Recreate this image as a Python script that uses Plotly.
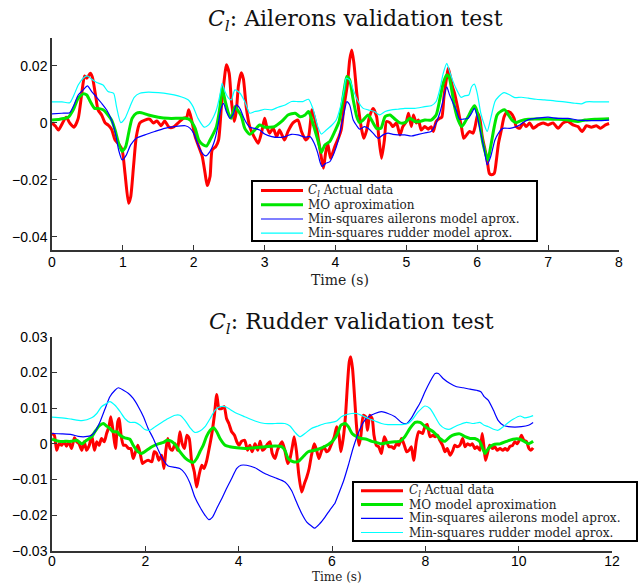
import plotly.graph_objects as go

# ---------------- Top panel: ailerons validation test ----------------
top_red_t = [0, 0.05, 0.09, 0.16, 0.2, 0.25, 0.31, 0.37, 0.42, 0.46, 0.49, 0.54, 0.57, 0.61, 0.65, 0.7, 0.75, 0.79, 0.84, 0.89, 0.94, 0.99, 1.03, 1.08, 1.11, 1.15, 1.19, 1.24, 1.31, 1.38, 1.43, 1.48, 1.54, 1.59, 1.65, 1.71, 1.78, 1.85, 1.9, 1.93, 1.97, 2.02, 2.07, 2.12, 2.16, 2.19, 2.23, 2.26, 2.31, 2.35, 2.39, 2.43, 2.46, 2.5, 2.53, 2.57, 2.6, 2.63, 2.67, 2.70, 2.74, 2.79, 2.85, 2.91, 2.96, 3.0, 3.03, 3.07, 3.12, 3.17, 3.21, 3.28, 3.33, 3.40, 3.47, 3.52, 3.58, 3.62, 3.67, 3.72, 3.76, 3.79, 3.83, 3.86, 3.89, 3.93, 3.99, 4.05, 4.08, 4.12, 4.17, 4.2, 4.23, 4.26, 4.3, 4.33, 4.37, 4.4, 4.44, 4.48, 4.53, 4.58, 4.61, 4.65, 4.69, 4.72, 4.77, 4.81, 4.86, 4.91, 4.95, 5.0, 5.03, 5.07, 5.1, 5.14, 5.17, 5.21, 5.26, 5.31, 5.35, 5.38, 5.42, 5.47, 5.5, 5.53, 5.57, 5.59, 5.61, 5.65, 5.68, 5.73, 5.78, 5.81, 5.85, 5.89, 5.94, 5.97, 6.01, 6.04, 6.07, 6.11, 6.14, 6.17, 6.2, 6.24, 6.27, 6.3, 6.34, 6.38, 6.43, 6.47, 6.52, 6.55, 6.6, 6.65, 6.69, 6.74, 6.79, 6.86, 6.93, 7.0, 7.07, 7.14, 7.21, 7.28, 7.35, 7.42, 7.48, 7.54, 7.61, 7.68, 7.74, 7.81, 7.86]
top_red_v = [0.0, -0.0012, -0.0025, 0.0005, 0.002, 0.0, -0.0015, 0.0016, 0.0104, 0.0165, 0.0157, 0.0174, 0.016, 0.0104, 0.0046, 0.0028, 0.0, -0.0007, -0.0022, -0.006, -0.0074, -0.0095, -0.0177, -0.0282, -0.026, -0.0153, -0.0048, 0.0, 0.001, 0.0013, 0.0, 0.0007, -0.001, 0.0007, -0.0015, -0.0015, 0.0, 0.0016, 0.002, 0.0046, 0.001, -0.0048, -0.0083, -0.0118, -0.0177, -0.022, -0.0188, -0.0095, -0.0083, -0.006, 0.0057, 0.0151, 0.0204, 0.0174, 0.0081, 0.0005, 0.004, 0.013, 0.0176, 0.0155, 0.0057, -0.0013, -0.0048, -0.0071, -0.003, 0.0016, -0.0013, -0.0036, -0.0019, -0.0048, -0.0025, -0.006, -0.003, 0.0, 0.001, -0.003, -0.006, -0.0048, 0.0046, 0.0, -0.006, -0.0106, -0.0159, -0.0106, -0.0071, -0.0124, -0.0083, -0.0048, -0.0025, 0.0057, 0.0139, 0.0221, 0.0256, 0.0209, 0.0104, 0.004, -0.0025, -0.0054, -0.0025, 0.0022, 0.0051, 0.0022, -0.0048, -0.0124, -0.006, 0.0005, 0.0, -0.0013, 0.0, -0.0042, -0.0013, 0.0005, 0.0034, -0.0013, 0.0028, 0.0, 0.001, -0.0025, -0.0013, -0.0022, -0.0013, -0.003, 0.0005, 0.0016, 0.002, 0.0092, 0.0163, 0.0192, 0.0174, 0.0127, 0.0104, 0.0046, -0.0019, -0.0054, -0.0042, -0.003, -0.0036, -0.0013, 0.0034, 0.001, -0.0048, -0.0095, -0.013, -0.0177, -0.0182, -0.0177, -0.013, -0.0071, -0.0025, 0.0022, 0.004, 0.0036, 0.0016, -0.0013, -0.0019, 0.0, -0.0013, 0.0, -0.0019, -0.0007, 0.0, -0.0007, 0.0, -0.0019, 0.0, 0.0005, -0.0007, -0.0013, -0.003, -0.001, -0.0015, -0.001, -0.0019, -0.0007, -0.0002]

top_green_t = [0, 0.11, 0.23, 0.3, 0.37, 0.44, 0.49, 0.54, 0.6, 0.65, 0.72, 0.79, 0.84, 0.89, 0.94, 0.99, 1.04, 1.09, 1.13, 1.19, 1.26, 1.36, 1.5, 1.64, 1.78, 1.88, 1.95, 2.02, 2.07, 2.13, 2.18, 2.23, 2.28, 2.32, 2.37, 2.4, 2.44, 2.49, 2.53, 2.58, 2.62, 2.67, 2.72, 2.79, 2.86, 2.93, 3.0, 3.07, 3.14, 3.24, 3.33, 3.43, 3.5, 3.57, 3.62, 3.68, 3.75, 3.8, 3.85, 3.92, 3.99, 4.05, 4.08, 4.13, 4.16, 4.2, 4.25, 4.3, 4.34, 4.39, 4.46, 4.52, 4.58, 4.64, 4.7, 4.77, 4.84, 4.91, 4.98, 5.05, 5.12, 5.19, 5.26, 5.35, 5.42, 5.47, 5.52, 5.57, 5.6, 5.64, 5.68, 5.73, 5.78, 5.82, 5.87, 5.92, 5.96, 5.99, 6.04, 6.08, 6.13, 6.15, 6.19, 6.24, 6.28, 6.34, 6.39, 6.44, 6.49, 6.55, 6.62, 6.72, 6.81, 6.95, 7.14, 7.28, 7.42, 7.52, 7.66, 7.86]
top_green_v = [0.001, 0.0013, 0.002, 0.0046, 0.0087, 0.0102, 0.0098, 0.0075, 0.0051, 0.0051, 0.0046, 0.0028, 0.001, -0.0025, -0.0071, -0.01, -0.0083, -0.0025, 0.0016, 0.0034, 0.0036, 0.0028, 0.002, 0.0016, 0.0016, 0.0016, 0.001, -0.0019, -0.006, -0.0077, -0.0081, -0.006, -0.0036, -0.0013, 0.0057, 0.0122, 0.0081, 0.0034, 0.0016, 0.0057, 0.0045, 0.0025, -0.0019, -0.004, -0.0025, -0.0007, -0.0015, -0.0015, -0.0013, 0.0005, 0.0028, 0.0034, 0.0022, 0.0028, 0.004, 0.0, -0.006, -0.0104, -0.0077, -0.0065, -0.003, 0.0005, 0.0046, 0.0127, 0.0163, 0.0151, 0.0081, 0.0022, 0.0001, 0.001, 0.0028, 0.0005, -0.0019, -0.0019, 0.0022, 0.0028, 0.0013, 0.0, 0.0001, 0.0016, 0.0005, 0.0005, 0.001, 0.001, 0.0028, 0.0081, 0.0139, 0.0168, 0.0163, 0.0116, 0.0057, 0.001, -0.0013, 0.0, 0.0022, 0.0046, 0.006, 0.0046, -0.0013, -0.0071, -0.0118, -0.013, -0.0083, -0.0013, 0.0028, 0.0042, 0.0046, 0.0028, 0.001, 0.0001, 0.0008, 0.0013, 0.0014, 0.0014, 0.0013, 0.001, 0.0005, 0.001, 0.0013, 0.0015]

top_blue_t = [0, 0.14, 0.25, 0.31, 0.37, 0.44, 0.5, 0.56, 0.63, 0.7, 0.77, 0.84, 0.9, 0.94, 0.99, 1.05, 1.11, 1.19, 1.31, 1.45, 1.59, 1.73, 1.88, 1.95, 2.01, 2.06, 2.12, 2.17, 2.23, 2.29, 2.34, 2.38, 2.42, 2.46, 2.51, 2.56, 2.6, 2.65, 2.72, 2.79, 2.86, 2.93, 3.0, 3.1, 3.19, 3.29, 3.38, 3.47, 3.57, 3.64, 3.7, 3.75, 3.78, 3.81, 3.86, 3.92, 3.98, 4.04, 4.08, 4.13, 4.16, 4.2, 4.25, 4.3, 4.34, 4.41, 4.46, 4.53, 4.6, 4.67, 4.74, 4.81, 4.88, 4.98, 5.07, 5.17, 5.28, 5.35, 5.42, 5.47, 5.52, 5.57, 5.61, 5.66, 5.71, 5.75, 5.8, 5.87, 5.92, 5.96, 6.0, 6.05, 6.1, 6.14, 6.19, 6.25, 6.3, 6.36, 6.46, 6.53, 6.6, 6.67, 6.76, 6.88, 7.0, 7.14, 7.28, 7.42, 7.56, 7.7, 7.86]
top_blue_v = [0.0032, 0.0034, 0.0036, 0.0063, 0.0098, 0.0116, 0.013, 0.011, 0.009, 0.0069, 0.0046, 0.001, -0.0042, -0.0095, -0.013, -0.0112, -0.0077, -0.0054, -0.0042, -0.003, -0.0019, -0.0013, -0.001, -0.0019, -0.0042, -0.0077, -0.0106, -0.0116, -0.01, -0.0065, -0.0013, 0.0046, 0.0069, 0.004, 0.0016, 0.0032, 0.0063, 0.0051, 0.001, -0.0015, -0.0019, -0.0025, -0.0039, -0.0048, -0.0051, -0.0048, -0.004, -0.0042, -0.005, -0.0048, -0.0071, -0.0106, -0.0136, -0.0153, -0.0142, -0.0136, -0.0106, -0.006, -0.0013, 0.0046, 0.0075, 0.0063, 0.001, -0.001, -0.0022, -0.0013, -0.0019, -0.0036, -0.0054, -0.0042, -0.0036, -0.004, -0.0042, -0.0042, -0.0046, -0.004, -0.0034, -0.003, 0.0, 0.0034, 0.0081, 0.0127, 0.0098, 0.0069, 0.004, 0.0013, 0.0013, 0.0016, 0.0034, 0.0051, 0.0022, -0.0036, -0.0095, -0.0147, -0.0118, -0.006, -0.0036, -0.0019, -0.0019, -0.0015, -0.0007, 0.0005, 0.0014, 0.0018, 0.002, 0.0016, 0.0016, 0.001, 0.0008, 0.0008, 0.001]

top_cyan_t = [0, 0.14, 0.25, 0.31, 0.37, 0.44, 0.5, 0.56, 0.63, 0.72, 0.79, 0.87, 0.91, 0.97, 1.03, 1.1, 1.16, 1.24, 1.36, 1.5, 1.64, 1.78, 1.92, 1.99, 2.06, 2.15, 2.21, 2.28, 2.32, 2.37, 2.4, 2.44, 2.49, 2.53, 2.58, 2.65, 2.72, 2.79, 2.86, 2.93, 3.0, 3.1, 3.19, 3.29, 3.38, 3.47, 3.54, 3.62, 3.68, 3.75, 3.8, 3.87, 3.94, 4.01, 4.07, 4.12, 4.15, 4.2, 4.25, 4.32, 4.39, 4.46, 4.55, 4.62, 4.7, 4.79, 4.88, 4.98, 5.12, 5.26, 5.35, 5.42, 5.47, 5.52, 5.57, 5.61, 5.66, 5.71, 5.77, 5.82, 5.88, 5.92, 5.96, 6.0, 6.05, 6.1, 6.14, 6.19, 6.25, 6.3, 6.38, 6.46, 6.53, 6.62, 6.72, 6.83, 6.95, 7.09, 7.23, 7.38, 7.47, 7.54, 7.68, 7.86]
top_cyan_v = [0.0074, 0.0074, 0.0071, 0.0098, 0.0133, 0.0157, 0.0165, 0.0153, 0.0142, 0.0133, 0.011, 0.0104, 0.0057, 0.0001, 0.0016, 0.0057, 0.009, 0.0104, 0.0108, 0.0106, 0.0102, 0.0095, 0.0081, 0.0057, 0.0016, -0.0015, -0.0007, 0.0022, 0.0046, 0.0098, 0.0139, 0.011, 0.0087, 0.0081, 0.0116, 0.0105, 0.0075, 0.0034, 0.004, 0.0043, 0.0048, 0.0046, 0.0055, 0.0063, 0.0075, 0.0075, 0.0075, 0.0083, 0.0051, -0.0013, -0.0039, -0.0025, -0.001, 0.001, 0.0057, 0.0116, 0.0157, 0.0151, 0.0116, 0.0075, 0.0051, 0.0046, 0.004, 0.0028, 0.004, 0.0046, 0.0048, 0.0051, 0.0051, 0.0057, 0.006, 0.0075, 0.0116, 0.0174, 0.0209, 0.018, 0.0145, 0.0116, 0.009, 0.0095, 0.0098, 0.0127, 0.0136, 0.0104, 0.0034, -0.0007, -0.003, 0.0016, 0.0075, 0.0092, 0.0106, 0.0098, 0.0089, 0.009, 0.0087, 0.0083, 0.0081, 0.0077, 0.0074, 0.0069, 0.0067, 0.0074, 0.0074, 0.0074]

# ---------------- Bottom panel: rudder validation test ----------------
bot_red_t = [0, 0.05, 0.1, 0.15, 0.21, 0.26, 0.31, 0.36, 0.42, 0.48, 0.53, 0.58, 0.64, 0.69, 0.74, 0.8, 0.85, 0.91, 0.96, 1.01, 1.06, 1.12, 1.17, 1.22, 1.26, 1.31, 1.36, 1.41, 1.44, 1.48, 1.53, 1.58, 1.64, 1.69, 1.74, 1.79, 1.84, 1.89, 1.94, 1.99, 2.06, 2.14, 2.19, 2.24, 2.29, 2.35, 2.4, 2.44, 2.48, 2.53, 2.58, 2.64, 2.69, 2.74, 2.79, 2.84, 2.89, 2.94, 2.99, 3.05, 3.1, 3.15, 3.21, 3.26, 3.31, 3.36, 3.42, 3.48, 3.53, 3.58, 3.64, 3.69, 3.74, 3.79, 3.85, 3.91, 3.96, 4.01, 4.06, 4.13, 4.19, 4.24, 4.29, 4.35, 4.41, 4.46, 4.51, 4.56, 4.62, 4.67, 4.72, 4.78, 4.83, 4.88, 4.93, 4.99, 5.05, 5.1, 5.15, 5.19, 5.24, 5.29, 5.35, 5.41, 5.46, 5.51, 5.56, 5.62, 5.67, 5.72, 5.78, 5.83, 5.88, 5.93, 5.99, 6.05, 6.1, 6.15, 6.19, 6.24, 6.29, 6.33, 6.37, 6.4, 6.44, 6.49, 6.53, 6.58, 6.62, 6.67, 6.72, 6.76, 6.81, 6.86, 6.9, 6.95, 7.0, 7.06, 7.12, 7.17, 7.22, 7.28, 7.33, 7.38, 7.43, 7.49, 7.55, 7.6, 7.65, 7.7, 7.75, 7.81, 7.86, 7.94, 7.99, 8.04, 8.1, 8.16, 8.21, 8.26, 8.31, 8.37, 8.42, 8.47, 8.53, 8.59, 8.63, 8.68, 8.74, 8.8, 8.85, 8.9, 8.96, 9.01, 9.06, 9.11, 9.17, 9.22, 9.26, 9.29, 9.33, 9.38, 9.44, 9.49, 9.54, 9.6, 9.66, 9.71, 9.76, 9.81, 9.87, 9.92, 9.97, 10.03, 10.06, 10.11, 10.17, 10.22, 10.26, 10.31]
bot_red_v = [0.0029, 0.0024, -0.0018, 0.0, -0.0004, 0.0006, -0.0007, 0.0006, -0.0013, 0.0017, 0.0006, 0.0, -0.0018, 0.0006, -0.0018, -0.0004, 0.0024, -0.0018, 0.0006, -0.0004, 0.0015, 0.0006, 0.0029, 0.0048, 0.0076, 0.0034, -0.0013, 0.0062, 0.0071, 0.0024, -0.0004, -0.0004, -0.0013, -0.0013, -0.0041, -0.0022, -0.0004, -0.0027, -0.0055, -0.005, -0.0046, -0.005, -0.0022, -0.0027, -0.0046, -0.0032, -0.0069, -0.0018, 0.0015, -0.0013, -0.0018, 0.0, -0.0018, 0.0034, 0.0, -0.0013, 0.0024, 0.0015, -0.0046, -0.0079, -0.0121, -0.0088, -0.006, -0.0069, -0.005, -0.0018, 0.0024, 0.008, 0.0138, 0.0099, 0.0099, 0.0104, 0.0071, 0.0057, 0.0034, 0.0024, 0.0006, -0.0004, 0.0007, 0.001, -0.0018, -0.0004, -0.0022, 0.0, -0.0018, 0.0007, -0.0018, -0.0013, 0.0, 0.0006, -0.0027, -0.0041, -0.0018, -0.0004, 0.0006, -0.0018, -0.0055, -0.0041, -0.0008, 0.002, -0.0022, -0.0088, -0.0135, -0.0111, -0.0093, -0.0069, -0.0032, 0.0, -0.0018, -0.0041, -0.0018, -0.0008, -0.0022, -0.0018, 0.0, 0.002, 0.0048, 0.0024, -0.0022, 0.0015, 0.008, 0.0164, 0.023, 0.0244, 0.0211, 0.0118, 0.0043, -0.0004, 0.0024, 0.008, 0.0076, 0.0038, 0.008, 0.0071, 0.0024, -0.0004, -0.0008, -0.0027, 0.002, 0.0006, -0.0008, -0.0008, -0.0013, 0.0, -0.0004, 0.0015, -0.0004, -0.0022, -0.0018, -0.0008, -0.0046, 0.001, 0.0034, 0.0029, 0.0048, 0.0054, 0.002, 0.0024, 0.002, 0.0024, 0.001, -0.0004, -0.0022, -0.0013, -0.0032, -0.0018, -0.0004, -0.0008, -0.0004, 0.0015, -0.0008, 0.0, -0.0004, 0.0, -0.0013, -0.0008, -0.0018, 0.0029, -0.0013, -0.0046, -0.0027, -0.0004, -0.0013, -0.0008, -0.0018, -0.0013, -0.0018, -0.0013, -0.0018, -0.0008, -0.0004, 0.0006, 0.0, 0.0015, 0.0024, 0.001, 0.0006, -0.0013, -0.0018, -0.0011]

bot_green_t = [0, 0.14, 0.28, 0.42, 0.53, 0.64, 0.74, 0.85, 0.92, 1.01, 1.1, 1.17, 1.24, 1.31, 1.39, 1.46, 1.56, 1.67, 1.74, 1.84, 1.92, 2.03, 2.14, 2.28, 2.39, 2.46, 2.56, 2.65, 2.74, 2.85, 2.96, 3.03, 3.1, 3.17, 3.24, 3.31, 3.39, 3.46, 3.53, 3.6, 3.71, 3.81, 3.96, 4.14, 4.35, 4.56, 4.78, 4.92, 4.99, 5.06, 5.17, 5.28, 5.38, 5.49, 5.63, 5.78, 5.92, 6.03, 6.12, 6.19, 6.28, 6.35, 6.43, 6.53, 6.63, 6.74, 6.85, 6.95, 7.06, 7.2, 7.35, 7.45, 7.56, 7.67, 7.78, 7.885, 8.03, 8.17, 8.31, 8.42, 8.53, 8.63, 8.74, 8.85, 8.96, 9.06, 9.16, 9.23, 9.28, 9.35, 9.46, 9.6, 9.74, 9.88, 10.03, 10.13, 10.21, 10.31]
bot_green_v = [0.0013, 0.0007, 0.0007, 0.0007, 0.001, 0.0, 0.001, 0.002, 0.0034, 0.005, 0.0057, 0.005, 0.0043, 0.0034, 0.0034, 0.0024, 0.0017, 0.0013, -0.0004, -0.0022, -0.0027, -0.0018, -0.0008, 0.0, 0.0004, 0.001, 0.0007, -0.0004, -0.0022, -0.0039, -0.0049, -0.0052, -0.0041, -0.0022, -0.0004, 0.002, 0.0038, 0.0045, 0.0034, 0.0015, -0.0004, -0.0008, -0.0011, -0.0013, -0.0011, -0.0008, -0.0006, -0.0008, -0.0018, -0.0041, -0.005, -0.0049, -0.0036, -0.0022, -0.0018, -0.0011, -0.0002, 0.001, 0.0029, 0.0052, 0.0057, 0.0048, 0.0029, 0.002, 0.0015, 0.0013, 0.0007, 0.0004, 0.0, 0.0004, 0.0006, 0.0007, 0.002, 0.0043, 0.006, 0.006, 0.0045, 0.0034, 0.0015, 0.0007, 0.002, 0.0026, 0.0028, 0.002, 0.0015, 0.0015, 0.0007, -0.0013, -0.0027, -0.0013, -0.0002, 0.0, 0.0007, 0.0013, 0.0013, 0.0006, 0.0, 0.0007]

bot_blue_t = [0, 0.21, 0.42, 0.56, 0.71, 0.85, 0.92, 1.03, 1.14, 1.24, 1.35, 1.42, 1.53, 1.64, 1.74, 1.85, 1.96, 2.06, 2.17, 2.28, 2.39, 2.49, 2.64, 2.74, 2.85, 2.96, 3.06, 3.17, 3.28, 3.36, 3.44, 3.53, 3.64, 3.74, 3.85, 3.96, 4.05, 4.17, 4.35, 4.56, 4.78, 4.99, 5.13, 5.24, 5.35, 5.46, 5.56, 5.63, 5.74, 5.85, 5.95, 6.03, 6.06, 6.13, 6.24, 6.35, 6.45, 6.56, 6.67, 6.78, 6.92, 7.06, 7.2, 7.35, 7.49, 7.6, 7.7, 7.8, 7.9, 7.99, 8.1, 8.21, 8.28, 8.38, 8.53, 8.67, 8.81, 8.96, 9.1, 9.19, 9.26, 9.35, 9.46, 9.56, 9.67, 9.78, 9.92, 10.06, 10.21, 10.31]
bot_blue_v = [0.0029, 0.0028, 0.0026, 0.0021, 0.002, 0.0024, 0.0034, 0.0062, 0.0099, 0.0132, 0.015, 0.0157, 0.015, 0.0141, 0.0127, 0.0104, 0.0076, 0.0043, 0.0015, -0.0018, -0.0046, -0.0062, -0.0066, -0.0069, -0.0083, -0.0111, -0.0149, -0.0177, -0.02, -0.0212, -0.0205, -0.0181, -0.0153, -0.0125, -0.0097, -0.0069, -0.006, -0.006, -0.0067, -0.0083, -0.0095, -0.0107, -0.013, -0.0163, -0.0195, -0.0219, -0.023, -0.0236, -0.0223, -0.0205, -0.0186, -0.0172, -0.0167, -0.0144, -0.0107, -0.006, -0.0013, 0.0029, 0.006, 0.0076, 0.0085, 0.009, 0.0085, 0.0076, 0.006, 0.0057, 0.0072, 0.0095, 0.0118, 0.0145, 0.0174, 0.0197, 0.0197, 0.0183, 0.0169, 0.016, 0.0157, 0.0153, 0.015, 0.0146, 0.0132, 0.0122, 0.0094, 0.0066, 0.0052, 0.0048, 0.0047, 0.0048, 0.0052, 0.006]

bot_cyan_t = [0, 0.21, 0.42, 0.64, 0.85, 0.96, 1.06, 1.17, 1.24, 1.35, 1.46, 1.56, 1.67, 1.78, 1.89, 1.99, 2.1, 2.21, 2.35, 2.49, 2.64, 2.74, 2.85, 2.96, 3.06, 3.17, 3.28, 3.39, 3.49, 3.6, 3.71, 3.81, 3.92, 4.13, 4.35, 4.56, 4.78, 4.99, 5.1, 5.21, 5.31, 5.42, 5.56, 5.7, 5.85, 5.99, 6.1, 6.2, 6.31, 6.42, 6.53, 6.63, 6.78, 6.92, 7.06, 7.2, 7.35, 7.49, 7.63, 7.74, 7.85, 7.99, 8.1, 8.21, 8.31, 8.42, 8.53, 8.63, 8.74, 8.88, 9.03, 9.17, 9.26, 9.35, 9.46, 9.56, 9.67, 9.78, 9.88, 10.03, 10.13, 10.24, 10.31]
bot_cyan_v = [0.0075, 0.0073, 0.0069, 0.0065, 0.0073, 0.0085, 0.0104, 0.0113, 0.0118, 0.0108, 0.009, 0.0071, 0.006, 0.006, 0.0052, 0.004, 0.0038, 0.0048, 0.006, 0.0071, 0.008, 0.008, 0.0066, 0.0045, 0.0032, 0.0036, 0.0048, 0.0071, 0.0094, 0.0104, 0.0104, 0.0097, 0.0088, 0.0076, 0.0064, 0.0057, 0.0057, 0.0057, 0.005, 0.0032, 0.002, 0.0029, 0.0043, 0.005, 0.0057, 0.006, 0.0064, 0.0076, 0.0082, 0.0085, 0.0085, 0.008, 0.0071, 0.0064, 0.0057, 0.0054, 0.0054, 0.0054, 0.0057, 0.0071, 0.009, 0.0106, 0.0099, 0.0076, 0.0054, 0.0043, 0.0041, 0.0048, 0.0054, 0.006, 0.0057, 0.006, 0.0052, 0.0048, 0.0041, 0.0038, 0.0048, 0.006, 0.0069, 0.0078, 0.0073, 0.0076, 0.0079]

# ---------------- Labels / ticks ----------------
series_names_top = ["<i>C<sub>l</sub></i> Actual data", "MO aproximation",
                    "Min-squares ailerons model aprox.", "Min-squares rudder model aprox."]
series_names_bot = ["<i>C<sub>l</sub></i> Actual data", "MO model aproximation",
                    "Min-squares ailerons model aprox.", "Min-squares rudder model aprox."]
x_title = "Time (s)"
top_title = "<i>C<sub>l</sub></i>: Ailerons validation test"
bot_title = "<i>C<sub>l</sub></i>: Rudder validation test"
top_xticks = [0, 1, 2, 3, 4, 5, 6, 7, 8]
top_yticks = [-0.04, -0.02, 0, 0.02]
top_yticklabels = ["\u22120.04", "\u22120.02", "0", "0.02"]
bot_xticks = [0, 2, 4, 6, 8, 10, 12]
bot_yticks = [-0.03, -0.02, -0.01, 0, 0.01, 0.02, 0.03]
bot_yticklabels = ["\u22120.03", "\u22120.02", "\u22120.01", "0", "0.01", "0.02", "0.03"]

colors = ["#ff0000", "#00e600", "#0000ff", "#00ffff"]
widths = [3, 3, 1.2, 1.2]

W, H = 638, 585
ML, MR, MT, MB = 52, 19, 38, 34
PW, PH = W - ML - MR, H - MT - MB


def px_x(px):
    return (px - ML) / PW


def px_y(py):
    return (H - MB - py) / PH


fig = go.Figure()

top_data = [(top_red_t, top_red_v), (top_green_t, top_green_v),
            (top_blue_t, top_blue_v), (top_cyan_t, top_cyan_v)]
bot_data = [(bot_red_t, bot_red_v), (bot_green_t, bot_green_v),
            (bot_blue_t, bot_blue_v), (bot_cyan_t, bot_cyan_v)]

for (t, v), name, c, w in zip(top_data, series_names_top, colors, widths):
    fig.add_trace(go.Scatter(x=t, y=v, mode="lines", name=name, showlegend=False,
                             line=dict(color=c, width=w, shape="spline", smoothing=0.6),
                             xaxis="x", yaxis="y"))
for (t, v), name, c, w in zip(bot_data, series_names_bot, colors, widths):
    fig.add_trace(go.Scatter(x=t, y=v, mode="lines", name=name, showlegend=False,
                             line=dict(color=c, width=w, shape="spline", smoothing=0.6),
                             xaxis="x2", yaxis="y2"))

tickfont = dict(family="Liberation Sans, Arial, sans-serif", size=14, color="black")
axcommon = dict(showline=True, linecolor="#333", linewidth=1.5, ticks="inside",
                ticklen=5, tickcolor="#333", tickwidth=1.2, showgrid=False,
                zeroline=False, tickfont=tickfont, mirror=False, automargin=False)
serif = "DejaVu Serif"

shapes = []
annotations = []


def add_legend(box, rows_y, sample_x, text_x, names):
    x0, x1, y0, y1 = box
    shapes.append(dict(type="rect", xref="paper", yref="paper",
                       x0=px_x(x0), x1=px_x(x1), y0=px_y(y1), y1=px_y(y0),
                       line=dict(color="black", width=2), fillcolor="white", layer="above"))
    for ry, name, c, w in zip(rows_y, names, colors, widths):
        shapes.append(dict(type="line", xref="paper", yref="paper",
                           x0=px_x(sample_x[0]), x1=px_x(sample_x[1]),
                           y0=px_y(ry), y1=px_y(ry),
                           line=dict(color=c, width=w), layer="above"))
        annotations.append(dict(text=name, xref="paper", yref="paper",
                                x=px_x(text_x), y=px_y(ry), xanchor="left", yanchor="middle",
                                showarrow=False,
                                font=dict(family=serif, size=12, color="#222")))


add_legend((252, 537, 181, 241), [190.5, 204.8, 219.0, 233.2], (261, 303), 306, series_names_top)
add_legend((353, 637, 482, 541), [490.7, 504.5, 518.3, 532.5], (361, 403), 407, series_names_bot)

annotations += [
    dict(text=top_title, xref="paper", yref="paper",
         x=px_x(355), y=px_y(21), xanchor="center", yanchor="middle", showarrow=False,
         font=dict(family=serif, size=22, color="#111")),
    dict(text=bot_title, xref="paper", yref="paper",
         x=px_x(351), y=px_y(323), xanchor="center", yanchor="middle", showarrow=False,
         font=dict(family=serif, size=22, color="#111")),
    dict(text=x_title, xref="paper", yref="paper",
         x=px_x(340), y=px_y(280), xanchor="center", yanchor="middle", showarrow=False,
         font=dict(family=serif, size=14, color="#222")),
    dict(text=x_title, xref="paper", yref="paper",
         x=px_x(337), y=px_y(576.5), xanchor="center", yanchor="middle", showarrow=False,
         font=dict(family=serif, size=12, color="#222")),
]

fig.update_layout(
    width=W, height=H, autosize=False,
    margin=dict(l=ML, r=MR, t=MT, b=MB),
    paper_bgcolor="white", plot_bgcolor="white",
    showlegend=False,
    xaxis=dict(domain=[0, 1], range=[0, 8], tickvals=top_xticks, anchor="y",
               ticklabelstandoff=-2, **axcommon),
    yaxis=dict(domain=[px_y(250), 1], range=[-0.0446, 0.0298], tickvals=top_yticks,
               ticktext=top_yticklabels, anchor="x", **axcommon),
    xaxis2=dict(domain=[0, px_x(612)], range=[0, 12], tickvals=bot_xticks, anchor="y2",
                ticklabelstandoff=-4, **axcommon),
    yaxis2=dict(domain=[0, px_y(336.7)], range=[-0.03, 0.03], tickvals=bot_yticks,
                ticktext=bot_yticklabels, anchor="x2", **axcommon),
    shapes=shapes,
    annotations=annotations,
)

fig.write_html("out.html")
